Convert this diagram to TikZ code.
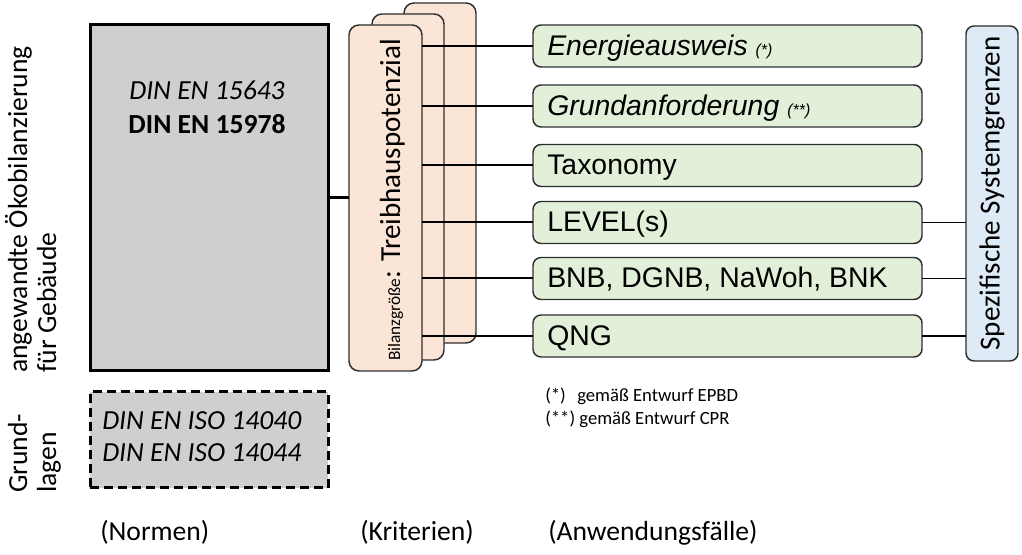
\documentclass[tikz,border=0pt]{standalone}
\usepackage{fontspec}
\setmainfont{Carlito}
\newfontfamily\arialfont{Liberation Sans}
\definecolor{grayfill}{HTML}{D0CECE}
\definecolor{pinkfill}{HTML}{FBE5D6}
\definecolor{greenfill}{HTML}{E2F0D9}
\definecolor{bluefill}{HTML}{DEEBF7}
\definecolor{boxborder}{HTML}{2E2E2E}
\begin{document}
\begin{tikzpicture}[x=0.75pt,y=-0.75pt,
  calfont/.style={font=\fontsize{20.7}{25}\selectfont},
  normbox/.style={draw=black, line width=2.25pt, fill=grayfill, inner sep=0pt, outer sep=0pt, minimum width=178.5pt},
  pinkbox/.style={draw=boxborder, line width=1.1pt, fill=pinkfill, rounded corners=7.5pt, inner sep=0pt, outer sep=0pt},
  greenbox/.style={draw=boxborder, line width=1.1pt, fill=greenfill, rounded corners=6pt, minimum width=291.75pt, minimum height=31.5pt, inner sep=0pt, outer sep=0pt},
  greentext/.style={font=\arialfont\fontsize{21.3}{25}\selectfont, anchor=base west, inner sep=0pt},
  bluebox/.style={draw=boxborder, line width=1.1pt, fill=bluefill, rounded corners=6pt, inner sep=0pt, outer sep=0pt, font=\fontsize{21.8}{26}\selectfont},
  conn/.style={draw=black, line width=1.5pt},
  thinconn/.style={draw=black, line width=1.1pt},
  noteline/.style={font=\fontsize{14}{17}\selectfont, anchor=base west, inner sep=0pt},
  sublabel/.style={font=\fontsize{20.7}{25}\selectfont, anchor=base west, inner sep=0pt},
  sidelabel/.style={font=\fontsize{20.7}{25}\selectfont, rotate=90, anchor=base west, inner sep=0pt}
]
\useasboundingbox (0,0) rectangle (1022,555);

% left rotated labels
\node[sidelabel] (lab1) at (27,373) {angewandte Ökobilanzierung};
\node[sidelabel] (lab2) at (56,373) {für Gebäude};
\node[sidelabel] (lab3) at (27,493) {Grund-};
\node[sidelabel] (lab4) at (56,493) {lagen};

% norm boxes
\node[normbox, minimum height=259.5pt] (norm) at (209,198) {};
\node[font=\fontsize{20.7}{25}\selectfont\itshape, anchor=base, inner sep=0pt] (din1) at (207,100) {DIN EN 15643};
\node[font=\fontsize{20.7}{25}\selectfont\bfseries, anchor=base, inner sep=0pt] (din2) at (207,134) {DIN EN 15978};

\node[normbox, dashed, dash pattern=on 6.75pt off 3.75pt, minimum height=72pt] (base) at (209,440) {};
\node[sublabel, font=\fontsize{20.7}{25}\selectfont\itshape] (iso1) at (102,430) {DIN EN ISO 14040};
\node[sublabel, font=\fontsize{20.7}{25}\selectfont\itshape] (iso2) at (102,462) {DIN EN ISO 14044};

% pink stack
\node[pinkbox, minimum width=54pt, minimum height=255pt] (back) at (440,173) {};
\node[pinkbox, minimum width=54pt, minimum height=259.5pt] (mid) at (408,187) {};
\node[pinkbox, minimum width=54.75pt, minimum height=259.5pt] (front) at (385.5,198) {};
\node[font=\fontsize{21.8}{26}\selectfont, rotate=90, anchor=base, inner sep=0pt] (gwp) at (400,200) {{\fontsize{13}{15}\selectfont Bilanzgröße}: Treibhauspotenzial};

% green boxes
\node[greenbox] (e1) at (727.5,46) {};
\node[greenbox] (e2) at (727.5,106) {};
\node[greenbox] (e3) at (727.5,165.5) {};
\node[greenbox] (e4) at (727.5,222.5) {};
\node[greenbox] (e5) at (727.5,278.5) {};
\node[greenbox] (e6) at (727.5,336) {};
\node[greentext] (t1) at ([xshift=10.5pt,yshift=-7pt]e1.west) {\itshape Energieausweis {\fontsize{12}{14}\selectfont (*)}};
\node[greentext] (t2) at ([xshift=10.5pt,yshift=-7pt]e2.west) {\itshape Grundanforderung {\fontsize{12}{14}\selectfont (**)}};
\node[greentext] (t3) at ([xshift=10.5pt,yshift=-7pt]e3.west) {Taxonomy};
\node[greentext] (t4) at ([xshift=10.5pt,yshift=-7pt]e4.west) {LEVEL(s)};
\node[greentext] (t5) at ([xshift=10.5pt,yshift=-7pt]e5.west) {BNB, DGNB, NaWoh, BNK};
\node[greentext] (t6) at ([xshift=10.5pt,yshift=-7pt]e6.west) {QNG};

% blue box
\node[bluebox, rotate=90, minimum width=251.25pt, minimum height=39pt] (sys) at (992,193.5) {Spezifische Systemgrenzen};

% connectors
\draw[line width=2.25pt] (norm.east) -- (front.west);
\foreach \n in {e1,e2,e3,e4,e5,e6} \draw[conn] (front.east |- \n.west) -- (\n.west);
\foreach \n in {e4,e5,e6} \draw[thinconn] (\n.east) -- (\n.east -| sys.north);

% footnotes
\node[noteline] (fn1a) at (545,402) {(*)};
\node[noteline] (fn1b) at (577,402) {gemäß Entwurf EPBD};
\node[noteline] (fn2) at (545,425) {(**) gemäß Entwurf CPR};

% column captions
\node[sublabel] (c1) at (100,541) {(Normen)};
\node[sublabel] (c2) at (360,541) {(Kriterien)};
\node[sublabel] (c3) at (548,541) {(Anwendungsfälle)};
\end{tikzpicture}
\end{document}
